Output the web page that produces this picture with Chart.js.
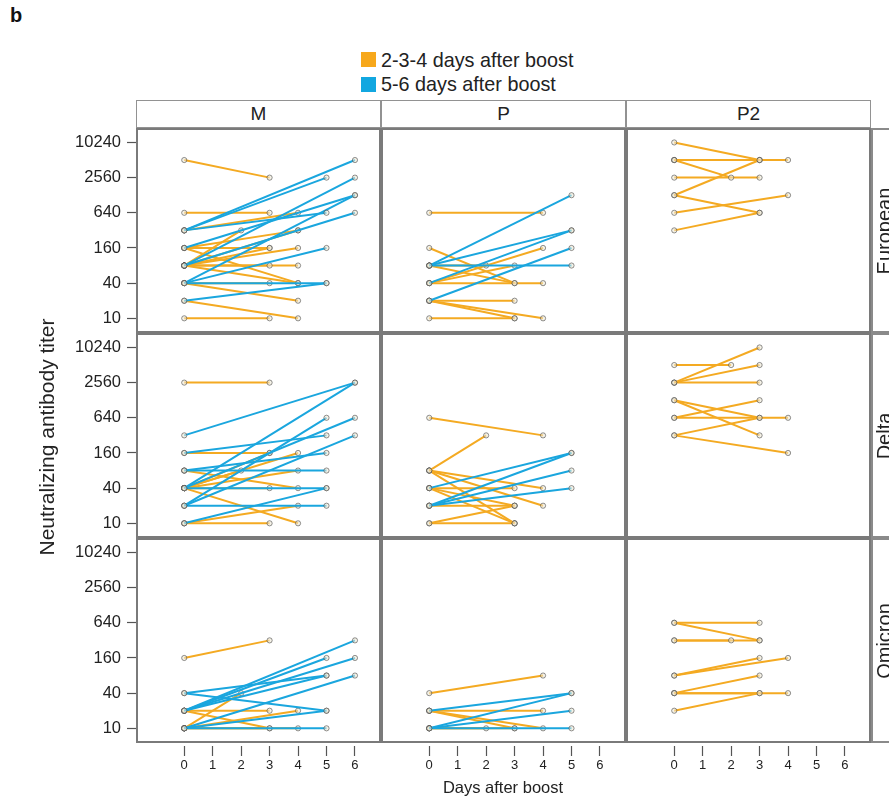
<!DOCTYPE html>
<html><head><meta charset="utf-8">
<script src="https://cdn.jsdelivr.net/npm/chart.js@4.4.1/dist/chart.umd.min.js"></script>
<style>
html,body{margin:0;padding:0;background:#fff;}
#root{position:relative;width:889px;height:802px;overflow:hidden;font-family:"Liberation Sans",Arial,sans-serif;color:#222;}
.t{position:absolute;white-space:nowrap;}
canvas{position:absolute;}
.box{position:absolute;box-sizing:border-box;border:2px solid #7a7a7a;pointer-events:none;}
.hdr{position:absolute;box-sizing:border-box;border:1.5px solid #929292;text-align:center;font-size:19px;line-height:25px;color:#222;}
</style></head><body><div id="root"></div>
<script>
// ---------------- data ----------------
const rowNames = ['European', 'Delta', 'Omicron'];
const colNames = ['M', 'P', 'P2'];
const yTicks = [10, 40, 160, 640, 2560, 10240];
const yTickLabels = ['10', '40', '160', '640', '2560', '10240'];
const xTicks = [0, 1, 2, 3, 4, 5, 6];
const xTickLabels = ['0', '1', '2', '3', '4', '5', '6'];
const legendLabels = ['2-3-4 days after boost', '5-6 days after boost'];
const yTitle = 'Neutralizing antibody titer';
const xTitle = 'Days after boost';

// each entry: [titer at day 0, day of second sample, titer at second sample]
const M_European = [
  [5120,3,2560],[640,3,640],[320,4,640],[80,2,320],[160,4,320],[80,4,320],[160,3,160],[80,3,160],
  [80,4,160],[80,3,80],[80,4,80],[160,4,40],[80,4,40],[40,3,40],[40,4,20],[10,3,10],[20,4,10],
  [320,6,5120],[320,5,2560],[320,5,640],[160,6,1280],[80,6,2560],[40,6,1280],[80,6,640],
  [40,5,160],[40,5,40],[20,5,40]
];
const P_European = [
  [640,4,640],[160,3,40],[40,4,160],[80,2,80],[40,3,80],[80,3,40],[40,4,40],[20,3,20],[20,3,10],
  [20,4,10],[10,3,10],
  [80,5,1280],[80,5,320],[40,5,320],[20,5,160],[80,5,80]
];
const P2_European = [
  [10240,3,5120],[5120,3,5120],[5120,2,2560],[5120,4,5120],[2560,3,2560],[1280,3,5120],
  [1280,3,640],[640,4,1280],[320,3,640]
];
const M_Delta = [
  [2560,3,2560],[160,3,160],[40,3,160],[40,4,160],[40,2,80],[40,4,80],[80,4,40],[40,3,40],
  [40,4,10],[10,4,20],[10,3,10],
  [320,6,2560],[40,6,2560],[20,5,640],[40,6,640],[160,5,320],[20,6,320],[80,5,160],[80,5,80],
  [40,5,40],[10,5,40],[20,5,20]
];
const P_Delta = [
  [640,4,320],[80,2,320],[80,4,40],[80,4,20],[80,3,10],[40,3,40],[40,3,20],[40,3,10],[20,3,20],
  [10,3,20],[10,3,10],
  [40,5,160],[20,5,160],[20,5,80],[20,5,40]
];
const P2_Delta = [
  [5120,2,5120],[2560,3,10240],[2560,3,5120],[2560,3,2560],[1280,3,640],[1280,3,320],
  [640,3,1280],[640,4,640],[320,3,640],[320,4,160]
];
const M_Omicron = [
  [160,3,320],[10,2,40],[20,3,20],[10,4,20],[20,3,10],[10,3,10],[10,4,10],
  [20,6,320],[20,5,160],[20,6,160],[20,5,80],[10,6,80],[40,5,20],[40,5,80],[10,5,10],[10,5,20]
];
const P_Omicron = [
  [40,4,80],[20,4,20],[20,3,10],[20,4,10],[10,2,10],[10,3,10],
  [20,5,40],[10,5,40],[10,5,20],[10,5,10]
];
const P2_Omicron = [
  [640,3,640],[640,3,320],[320,2,320],[320,3,320],[80,3,160],[80,4,160],[40,3,80],[40,3,40],
  [40,4,40],[20,3,40]
];

const panelData = {
  European: { M: M_European, P: P_European, P2: P2_European },
  Delta:    { M: M_Delta,    P: P_Delta,    P2: P2_Delta },
  Omicron:  { M: M_Omicron,  P: P_Omicron,  P2: P2_Omicron }
};

// ---------------- style / layout ----------------
const ORANGE = '#F4AA22';
const BLUE = '#1AA6DE';
const LEG_ORANGE = '#F7A81B';
const LEG_BLUE = '#12A7E0';
const FONT = '"Liberation Sans", Arial, sans-serif';
const colX = [137, 382, 627];
const rowY = [129, 334, 539];
const PW = 243, PH = 203;
const YAX = 80, XAX = 40;
const X_MIN = -1.66, X_MAX = 6.88;
const Y_MIN = 5.83, Y_MAX = 17400;

const root = document.getElementById('root');
function addText(txt, css) {
  const d = document.createElement('div');
  d.className = 't';
  d.textContent = txt;
  Object.assign(d.style, css);
  root.appendChild(d);
  return d;
}

// panel label "b"
addText('b', { left: '10px', top: '3px', fontSize: '20px', fontWeight: 'bold', lineHeight: '24px', color: '#111' });

// legend
[[LEG_ORANGE, 52, 60], [LEG_BLUE, 77, 84]].forEach((l, i) => {
  const sq = document.createElement('div');
  Object.assign(sq.style, { position: 'absolute', left: '361px', top: l[1] + 'px', width: '15px', height: '15px', background: l[0] });
  root.appendChild(sq);
  addText(legendLabels[i], { left: '381px', top: (l[2] - 11) + 'px', fontSize: '19.8px', lineHeight: '22px', color: '#222' });
});

// column headers
colNames.forEach((n, c) => {
  const h = document.createElement('div');
  h.className = 'hdr';
  h.textContent = n;
  Object.assign(h.style, { left: (colX[c] - 1) + 'px', top: '100px', width: (PW + 2) + 'px', height: '28px' });
  root.appendChild(h);
});

// charts
rowNames.forEach((rn, r) => {
  colNames.forEach((cn, c) => {
    const showY = c === 0, showX = r === 2;
    const left = colX[c] - (showY ? YAX : 0);
    const top = rowY[r];
    const w = PW + (showY ? YAX : 0);
    const h = PH + (showX ? XAX : 0);
    const cv = document.createElement('canvas');
    cv.width = w; cv.height = h;
    cv.style.left = left + 'px'; cv.style.top = top + 'px';
    cv.style.width = w + 'px'; cv.style.height = h + 'px';
    root.appendChild(cv);

    const segs = panelData[rn][cn];
    const blue = segs.filter(s => s[1] >= 5);
    const orange = segs.filter(s => s[1] < 5);
    const datasets = blue.concat(orange).map(s => ({
      data: [{ x: 0, y: s[0] }, { x: s[1], y: s[2] }],
      borderColor: s[1] >= 5 ? BLUE : ORANGE,
      borderWidth: 2,
      tension: 0,
      pointRadius: 2.6,
      pointBorderWidth: 0.9,
      pointBorderColor: 'rgba(70,70,70,0.65)',
      pointBackgroundColor: 'rgba(236,232,212,0.55)'
    }));

    new Chart(cv, {
      type: 'line',
      data: { datasets },
      options: {
        responsive: false,
        animation: false,
        events: [],
        layout: { padding: 0, autoPadding: false },
        plugins: { legend: { display: false }, tooltip: { enabled: false } },
        scales: {
          x: {
            type: 'linear', min: X_MIN, max: X_MAX, display: showX,
            afterBuildTicks: s => { s.ticks = xTicks.map(v => ({ value: v })); },
            afterFit: s => { if (showX) s.height = XAX; s.paddingLeft = 0; s.paddingRight = 0; },
            ticks: {
              autoSkip: false, maxRotation: 0, padding: 2, color: '#222',
              font: { family: FONT, size: 13 },
              callback: v => xTickLabels[xTicks.indexOf(v)]
            },
            grid: {
              drawOnChartArea: false, drawTicks: true, tickLength: 14,
              tickBorderDash: [10, 100], tickBorderDashOffset: 106,
              tickColor: '#555', tickWidth: 1.2
            },
            border: { display: false }
          },
          y: {
            type: 'logarithmic', min: Y_MIN, max: Y_MAX, display: showY,
            afterBuildTicks: s => { s.ticks = yTicks.map(v => ({ value: v })); },
            afterFit: s => { if (showY) s.width = YAX; s.paddingTop = 0; s.paddingBottom = 0; },
            ticks: {
              autoSkip: false, padding: 5, color: '#222',
              font: { family: FONT, size: 16.5 },
              callback: v => yTickLabels[yTicks.indexOf(v)]
            },
            grid: {
              drawOnChartArea: false, drawTicks: true, tickLength: 11,
              tickBorderDash: [9, 100], tickBorderDashOffset: 108,
              tickColor: '#555', tickWidth: 1.2
            },
            border: { display: false }
          }
        }
      }
    });

    // panel frame
    const b = document.createElement('div');
    b.className = 'box';
    Object.assign(b.style, { left: (colX[c] - 1) + 'px', top: (rowY[r] - 1) + 'px', width: (PW + 2) + 'px', height: (PH + 2) + 'px' });
    root.appendChild(b);
  });

  // right strip
  const st = document.createElement('div');
  st.className = 'box';
  Object.assign(st.style, { left: '871px', top: (rowY[r] - 1) + 'px', width: '40px', height: (PH + 2) + 'px', borderColor: '#8a8a8a' });
  root.appendChild(st);
  const cy = rowY[r] + PH / 2;
  addText(rn, { left: (884 - 60) + 'px', top: (cy - 12) + 'px', width: '120px', height: '24px', lineHeight: '24px',
    textAlign: 'center', fontSize: '20px', transform: 'rotate(-90deg)', color: '#222' });
});

// axis titles
addText(yTitle, { left: (47 - 150) + 'px', top: (437 - 12) + 'px', width: '300px', height: '24px', lineHeight: '24px',
  textAlign: 'center', fontSize: '21px', transform: 'rotate(-90deg)', color: '#222' });
addText(xTitle, { left: (503 - 150) + 'px', top: (787 - 11) + 'px', width: '300px', lineHeight: '22px',
  textAlign: 'center', fontSize: '16.5px', color: '#222' });
</script></body></html>
